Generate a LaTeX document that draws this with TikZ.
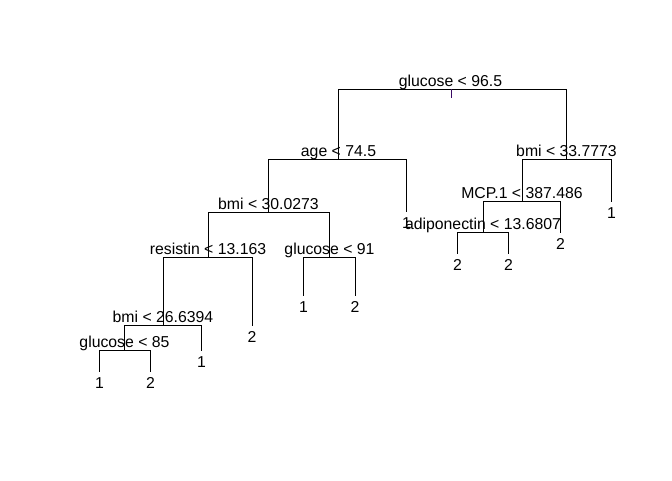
\documentclass[tikz,border=0pt]{standalone}
\usepackage{fontspec}
\setmainfont{Liberation Sans}
\definecolor{stemcol}{RGB}{58,10,100}
\begin{document}
\begin{tikzpicture}[x=1pt,y=-1pt,
  branch/.style={draw=black,line width=1pt},
  split/.style={anchor=base,inner sep=0pt,font=\fontsize{15.8}{18}\selectfont},
  leafval/.style={anchor=base,inner sep=0pt,font=\fontsize{15.8}{18}\selectfont},
  stem/.style={draw=stemcol,line width=1.6pt}]
\useasboundingbox (0,0) rectangle (672,480);

% split points (x, height of the horizontal bar)
\coordinate (root)  at (452.5,89.5);
\coordinate (age)   at (338.5,159.5);
\coordinate (bmiA)  at (566.5,159.5);
\coordinate (mcp)   at (522.5,201.5);
\coordinate (adipo) at (483.5,232.5);
\coordinate (bmiB)  at (268.5,212.5);
\coordinate (resis) at (208.5,257.5);
\coordinate (gluB)  at (329.5,257.5);
\coordinate (bmiC)  at (163.5,325.5);
\coordinate (gluC)  at (124.5,350.5);

% leaf ends
\coordinate (f1)  at (99.5,371.5);
\coordinate (f2)  at (150.5,371.5);
\coordinate (f3)  at (201.5,350.5);
\coordinate (f4)  at (252.5,325.5);
\coordinate (f5)  at (303.5,295.5);
\coordinate (f6)  at (355.5,295.5);
\coordinate (f7)  at (406.5,211.5);
\coordinate (f8)  at (457.5,253.5);
\coordinate (f9)  at (508.5,253.5);
\coordinate (f10) at (560.5,232.5);
\coordinate (f11) at (611.5,201.5);

% branches
\draw[branch] (age) |- (root) -| (bmiA);
\draw[branch] (bmiB) |- (age) -| (f7);
\draw[branch] (mcp) |- (bmiA) -| (f11);
\draw[branch] (adipo) |- (mcp) -| (f10);
\draw[branch] (f8) |- (adipo) -| (f9);
\draw[branch] (resis) |- (bmiB) -| (gluB);
\draw[branch] (f5) |- (gluB) -| (f6);
\draw[branch] (bmiC) |- (resis) -| (f4);
\draw[branch] (gluC) |- (bmiC) -| (f3);
\draw[branch] (f1) |- (gluC) -| (f2);
\coordinate (stemtop) at (451.5,89);
\draw[stem] (stemtop) -- ++(0,9);

% split labels
\node[split] (t-root)  at (450.5,86)  {glucose < 96.5};
\node[split] (t-age)   at (338.5,156) {age < 74.5};
\node[split] (t-bmiA)  at (566.5,156) {bmi < 33.7773};
\node[split] (t-mcp)   at (522,198)   {MCP.1 < 387.486};
\node[split] (t-adipo) at (483,229)   {adiponectin < 13.6807};
\node[split] (t-bmiB)  at (268.5,209) {bmi < 30.0273};
\node[split] (t-resis) at (208,254)   {resistin < 13.163};
\node[split] (t-gluB)  at (329.5,254) {glucose < 91};
\node[split] (t-bmiC)  at (163,322)   {bmi < 26.6394};
\node[split] (t-gluC)  at (124.5,347) {glucose < 85};

% leaf labels
\node[leafval] (v1)  at (99.5,388)  {1};
\node[leafval] (v2)  at (150.5,388) {2};
\node[leafval] (v3)  at (201.5,367) {1};
\node[leafval] (v4)  at (252,342)   {2};
\node[leafval] (v5)  at (303.5,312) {1};
\node[leafval] (v6)  at (355,312)   {2};
\node[leafval] (v7)  at (406.5,228) {1};
\node[leafval] (v8)  at (457.5,270) {2};
\node[leafval] (v9)  at (508.5,270) {2};
\node[leafval] (v10) at (560.5,249) {2};
\node[leafval] (v11) at (611.5,218) {1};
\end{tikzpicture}
\end{document}
